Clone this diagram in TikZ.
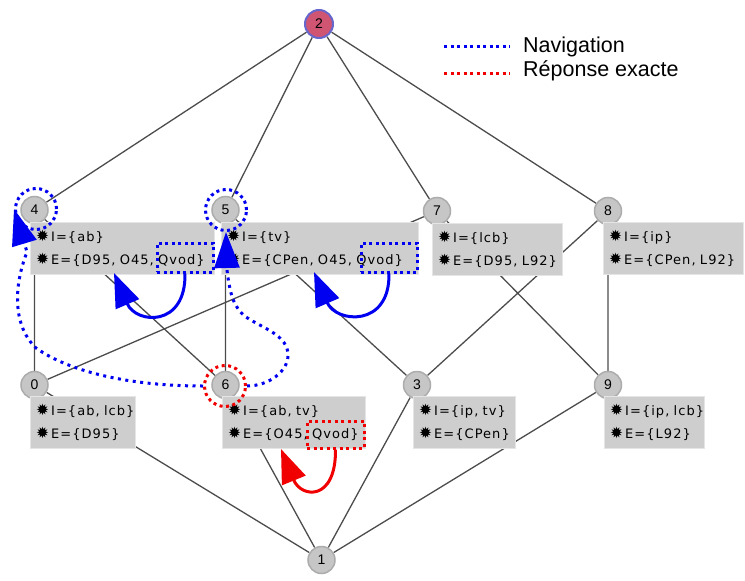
\documentclass[tikz,border=0pt]{standalone}
\usepackage{fontspec}
\setmainfont{Liberation Sans}
\newfontfamily\boxfont[LetterSpace=8]{DejaVu Sans}
\newfontfamily\bugfont{DejaVu Sans}
\usetikzlibrary{arrows.meta,backgrounds}
\definecolor{conceptgray}{HTML}{CECECE}
\definecolor{circlegray}{HTML}{C6C6C6}
\definecolor{toprose}{HTML}{CF5573}
\definecolor{navblue}{HTML}{0000F0}
\definecolor{exactred}{HTML}{F00000}
\newcommand{\attrline}[1]{\mbox{{\bugfont\fontsize{15.5}{23}\selectfont ✹}\hspace{2pt}#1}}
\begin{document}
\begin{tikzpicture}
		[x=1pt,y=-1pt,
		vertex/.style={circle,fill=circlegray,draw=gray!65,line width=1.5pt,minimum size=27pt,inner sep=0pt,font=\fontsize{14}{16}\selectfont},
		concept/.style={anchor=north west,fill=conceptgray,draw=black!10,text width=#1,inner xsep=6pt,inner ysep=0pt,minimum height=52pt,align=left,font=\boxfont\fontsize{13}{23}\selectfont,
			append after command={[draw=black!40,line width=1pt] (\tikzlastnode.north east) -- (\tikzlastnode.south east) -- (\tikzlastnode.south west)}},
		link/.style={draw=black!70,line width=1.3pt},
		ring/.style={circle,draw=#1,line width=3pt,dash pattern=on 3pt off 3.5pt,minimum size=41pt,inner sep=0pt},
		mark box/.style={draw=#1,line width=3pt,dash pattern=on 3pt off 3.5pt,inner sep=0pt},
		trail/.style={draw=navblue,line width=3pt,dash pattern=on 3pt off 4.5pt,-{Triangle[length=36pt,width=25pt]}},
		jump/.style={draw=#1,line width=3pt,-{Triangle[length=34pt,width=25pt]}},
		legend/.style={line width=3pt,dash pattern=on 3pt off 3.5pt},
		legend text/.style={anchor=west,inner sep=0pt,font=\fontsize{21.5}{24}\selectfont}]
		\useasboundingbox (0,0) rectangle (745,581);
		\node[vertex,fill=toprose,draw=blue!50!gray!80,minimum size=28pt,line width=2pt] (n2) at (319,24) {2};
		\node[vertex] (n4) at (34.5,210) {4};
		\node[vertex] (n5) at (225.5,210) {5};
		\node[vertex] (n7) at (437,211) {7};
		\node[vertex] (n8) at (608,211) {8};
		\node[vertex] (n0) at (34.5,385) {0};
		\node[vertex] (n6) at (225.5,385) {6};
		\node[vertex] (n3) at (417,385) {3};
		\node[vertex] (n9) at (608,385) {9};
		\node[vertex] (n1) at (321.5,560) {1};
		\node[concept=172pt] (b4) at (30,222) {\attrline{I=\{ab\}}\\\attrline{E=\{D95, O45, Qvod\}}};
		\node[concept=185pt] (b5) at (221,222) {\attrline{I=\{tv\}}\\\attrline{E=\{CPen, O45, Qvod\}}};
		\node[concept=118pt] (b7) at (432,223) {\attrline{I=\{lcb\}}\\\attrline{E=\{D95, L92\}}};
		\node[concept=128pt] (b8) at (603,222) {\attrline{I=\{ip\}}\\\attrline{E=\{CPen, L92\}}};
		\node[concept=93pt] (b0) at (30,396) {\attrline{I=\{ab, lcb\}}\\\attrline{E=\{D95\}}};
		\node[concept=131pt] (b6) at (222,396) {\attrline{I=\{ab, tv\}}\\\attrline{E=\{O45, Qvod\}}};
		\node[concept=90pt] (b3) at (413,396) {\attrline{I=\{ip, tv\}}\\\attrline{E=\{CPen\}}};
		\node[concept=88pt] (b9) at (604,396) {\attrline{I=\{ip, lcb\}}\\\attrline{E=\{L92\}}};
		\begin{scope}[on background layer]
			\draw[link] (n2) -- (n4) (n2) -- (n5) (n2) -- (n7) (n2) -- (n8);
			\draw[link] (n4) -- (n0) (n4) -- (n6) (n5) -- (n6) (n5) -- (n3);
			\draw[link] (n7) -- (n0) (n7) -- (n9) (n8) -- (n3) (n8) -- (n9);
			\draw[link] (n0) -- (n1) (n6) -- (n1) (n3) -- (n1) (n9) -- (n1);
		\end{scope}
		\node[ring=navblue] (r4) at (36,209) {};
		\node[ring=navblue] (r5) at (226,210) {};
		\node[ring=exactred] (r6) at (225,386) {};
		\node[mark box=navblue,minimum width=56pt,minimum height=29pt] (q4) at (185,257.5) {};
		\node[mark box=navblue,minimum width=56pt,minimum height=29pt] (q5) at (389,257.5) {};
		\node[mark box=exactred,minimum width=57pt,minimum height=27pt] (q6) at (335.5,434.5) {};
		\coordinate (t4) at (114,273);
		\coordinate (t5) at (314,272);
		\coordinate (t6) at (281,449);
		\draw[jump=navblue] (q4.south) .. controls (186,328) and (136,324) .. (t4);
		\draw[jump=navblue] (q5.south) .. controls (390,328) and (336,323) .. (t5);
		\draw[jump=exactred] (q6.south) .. controls (336,502) and (301,498) .. (t6);
		\draw[trail] (r6.west) .. controls (130,386) and (70,372) .. (36,348) .. controls (12,325) and (14,285) .. (27,252) -- (r4.west);
		\draw[trail] (r6.east) .. controls (268,386) and (288,372) .. (288,355) .. controls (288,335) and (262,328) .. (246,317) .. controls (234,308) and (230,295) .. (227,270) -- (r5.south);
		\coordinate (la) at (444,46);
		\coordinate (lb) at (510,46);
		\coordinate (lc) at (444,73);
		\coordinate (ld) at (510,73);
		\draw[legend,navblue] (la) -- (lb);
		\draw[legend,exactred] (lc) -- (ld);
		\node[legend text] (nav) at (523,47) {Navigation};
		\node[legend text] (exact) at (523,71) {Réponse exacte};
	\end{tikzpicture}
\end{document}
